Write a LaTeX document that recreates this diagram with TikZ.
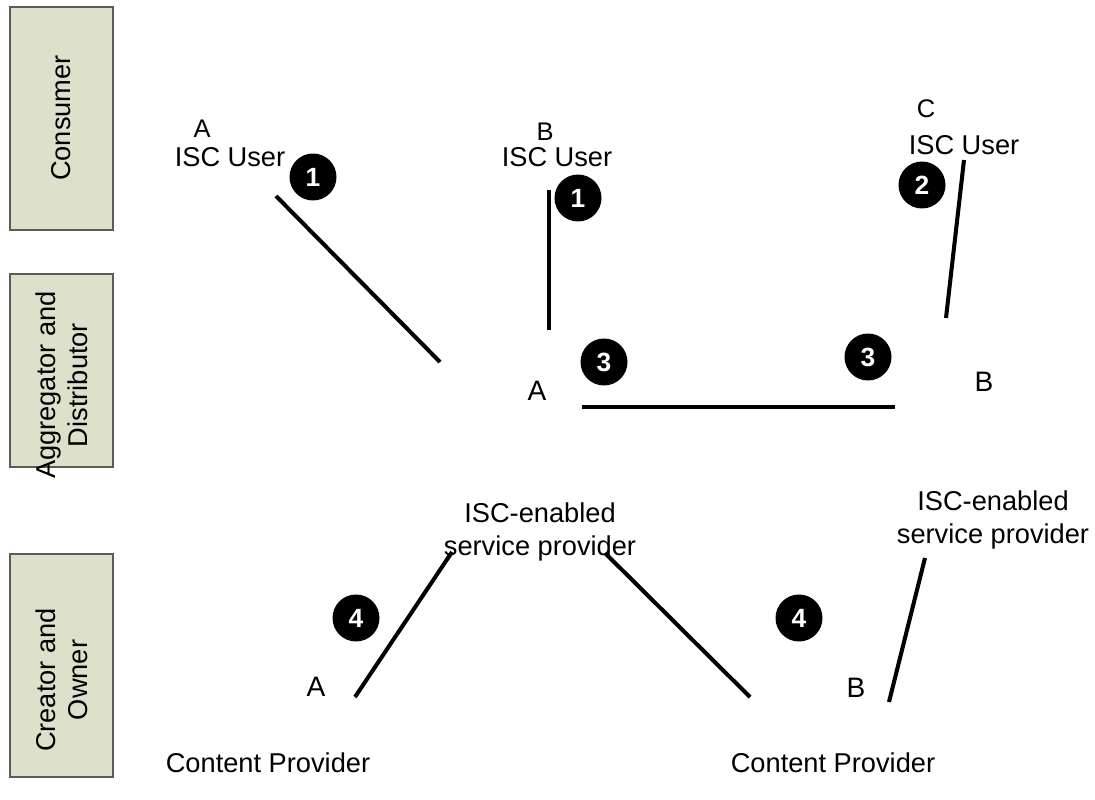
\documentclass[tikz,border=0pt]{standalone}
\usepackage{fontspec}
\setmainfont{Liberation Sans}
\usetikzlibrary{positioning}
\definecolor{rolefill}{HTML}{DDE1CB}
\definecolor{roledraw}{HTML}{5A5A5A}

\begin{document}
\begin{tikzpicture}[x=0.02cm,y=-0.02cm,
    rolebox/.style={draw=roledraw,fill=rolefill,line width=0.8pt},
    rolelabel/.style={rotate=90,align=center,inner sep=0pt,
        font=\fontsize{15.5}{18}\selectfont},
    numcirc/.style={circle,fill=black,text=white,minimum size=0.94cm,
        inner sep=0pt,font=\fontsize{15}{15}\selectfont\bfseries},
    lbl/.style={anchor=base,inner sep=0pt,font=\fontsize{15.5}{19}\selectfont},
    letter/.style={anchor=base,inner sep=0pt,font=\fontsize{14.5}{16}\selectfont},
    bigletter/.style={letter,font=\fontsize{16}{18}\selectfont},
    link/.style={line width=2.3pt}]
        \newcommand{\iscboxleft}{10}
        \newcommand{\iscboxright}{113}
        \newcommand{\iscboxmid}{61.5}
        \useasboundingbox (0,0) rectangle (1095,800);
        % role boxes on the left
        \draw[rolebox] (\iscboxleft,7) rectangle (\iscboxright,230);
        \draw[rolebox] (\iscboxleft,274) rectangle (\iscboxright,467);
        \draw[rolebox] (\iscboxleft,554) rectangle (\iscboxright,777);
        \node[rolelabel] (consumer) at (\iscboxmid,118) {Consumer};
        \node[rolelabel] (aggregator) at (\iscboxmid,385) {Aggregator and\\Distributor};
        \node[rolelabel] (creator) at (\iscboxmid,680) {Creator and\\Owner};
        % consumers
        \node[letter] (userAletter) at (202,138) {A};
        \node[lbl] (userA) at (230,167) {ISC User};
        \node[letter] (userBletter) at (545,141) {B};
        \node[lbl] (userB) at (557,167) {ISC User};
        \node[letter] (userCletter) at (926,118) {C};
        \node[lbl] (userC) at (964,155) {ISC User};
        \node[numcirc] (oneA) at (313,177) {1};
        \node[numcirc] (oneB) at (578,198) {1};
        \node[numcirc] (twoC) at (922,185) {2};
        % aggregators
        \node[bigletter] (aggAletter) at (537,400) {A};
        \node[bigletter] (aggBletter) at (984,392) {B};
        \node[numcirc] (threeA) at (604,362) {3};
        \node[numcirc] (threeB) at (868,357) {3};
        \node[lbl] (spAtop) at (540,522) {ISC-enabled};
        \node[lbl] (spAbot) at (540,555) {service provider};
        \node[lbl] (spBtop) at (993,510) {ISC-enabled};
        \node[lbl] (spBbot) at (993,543) {service provider};
        % creators
        \node[numcirc] (fourA) at (356,618) {4};
        \node[numcirc] (fourB) at (799,618) {4};
        \node[bigletter] (creAletter) at (316,696) {A};
        \node[bigletter] (creBletter) at (856,697) {B};
        \node[lbl] (contentA) at (268,772) {Content Provider};
        \node[lbl] (contentB) at (833,772) {Content Provider};
        % link end points
        \coordinate (linkAtop) at (276,196);
        \coordinate (linkAbot) at (440,362);
        \coordinate (linkBtop) at (549,190);
        \coordinate (linkBbot) at (549,330);
        \coordinate (linkCtop) at (964,160);
        \coordinate (linkCbot) at (946,318);
        \coordinate (linkDleft) at (582,407);
        \coordinate (linkDright) at (895,407);
        \coordinate (linkEtop) at (452,552);
        \coordinate (linkEbot) at (355,697);
        \coordinate (linkFtop) at (605,553);
        \coordinate (linkFbot) at (750,697);
        \coordinate (linkGtop) at (925,558);
        \coordinate (linkGbot) at (889,702);
        \draw[link] (linkAtop) -- (linkAbot);
        \draw[link] (linkBtop) -- (linkBbot);
        \draw[link] (linkCtop) -- (linkCbot);
        \draw[link] (linkDleft) -- (linkDright);
        \draw[link] (linkEtop) -- (linkEbot);
        \draw[link] (linkFtop) -- (linkFbot);
        \draw[link] (linkGtop) -- (linkGbot);
    \end{tikzpicture}
\end{document}
